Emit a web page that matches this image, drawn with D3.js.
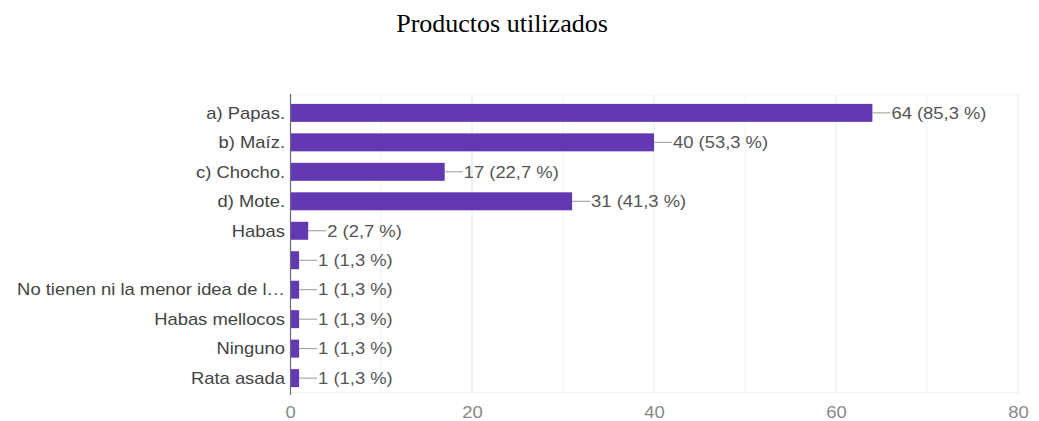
<!DOCTYPE html>
<html>
<head>
<meta charset="utf-8">
<script src="https://cdn.jsdelivr.net/npm/d3@7"></script>
<style>
  html, body { margin: 0; padding: 0; background: #ffffff; }
  svg { display: block; }
</style>
</head>
<body>
<svg id="chart" width="1039" height="421"></svg>
<script>
const title = "Productos utilizados";
const categories = [
  "a) Papas.",
  "b) Maíz.",
  "c) Chocho.",
  "d) Mote.",
  "Habas",
  "",
  "No tienen ni la menor idea de l…",
  "Habas mellocos",
  "Ninguno",
  "Rata asada"
];
const counts = [64, 40, 17, 31, 2, 1, 1, 1, 1, 1];
const percents = ["85,3", "53,3", "22,7", "41,3", "2,7", "1,3", "1,3", "1,3", "1,3", "1,3"];
const xTicks = [0, 20, 40, 60, 80];
const gridTicks = [10, 20, 30, 40, 50, 60, 70, 80];

(function () {
const svg = d3.select("#chart");
const mLeft = 290, mRight = 1018, mTop = 98, mBottom = 393;
const SX = 1.15; // horizontal stretch of the reference text
const FS = 16;

const x = d3.scaleLinear().domain([0, 80]).range([mLeft, mRight]);
const y = d3.scaleBand().domain(d3.range(categories.length)).range([mTop, mBottom])
  .paddingInner(0.39).paddingOuter(0.2);

// title
svg.append("text")
  .attr("x", 502).attr("y", 32)
  .attr("text-anchor", "middle")
  .attr("font-family", "'Liberation Serif', 'Times New Roman', serif")
  .attr("font-size", 26)
  .attr("fill", "#000")
  .text(title);

// grid lines
svg.append("g").selectAll("line").data(gridTicks).join("line")
  .attr("x1", d => x(d)).attr("x2", d => x(d))
  .attr("y1", mTop - 3).attr("y2", mBottom)
  .attr("stroke", d => d % 20 === 0 ? "#e6e6e6" : "#f2f2f2")
  .attr("stroke-width", 1);

// faint top/bottom borders
svg.append("line").attr("x1", mLeft).attr("x2", mRight).attr("y1", mTop - 3).attr("y2", mTop - 3)
  .attr("stroke", "#f3f3f3");
svg.append("line").attr("x1", mLeft).attr("x2", mRight).attr("y1", mBottom).attr("y2", mBottom)
  .attr("stroke", "#efefef");

// bars
svg.append("g").selectAll("rect").data(counts).join("rect")
  .attr("x", x(0))
  .attr("y", (d, i) => y(i))
  .attr("width", d => x(d) - x(0))
  .attr("height", y.bandwidth())
  .attr("fill", "#6338b3");

// axis line
svg.append("line")
  .attr("x1", x(0) + 0.5).attr("x2", x(0) + 0.5)
  .attr("y1", mTop - 4).attr("y2", mBottom + 2)
  .attr("stroke", "#6a6a7a").attr("stroke-width", 1.2);

const textFont = "'Liberation Sans', Arial, sans-serif";

// category labels
svg.append("g").selectAll("text").data(categories).join("text")
  .attr("transform", (d, i) => `translate(${x(0) - 5},${y(i) + y.bandwidth() / 2}) scale(${SX},1)`)
  .attr("text-anchor", "end")
  .attr("dy", "0.36em")
  .attr("font-family", textFont)
  .attr("font-size", FS)
  .attr("fill", "#444")
  .text(d => d);

// value connectors
svg.append("g").selectAll("line").data(counts).join("line")
  .attr("x1", d => x(d)).attr("x2", d => x(d) + 18)
  .attr("y1", (d, i) => y(i) + y.bandwidth() / 2)
  .attr("y2", (d, i) => y(i) + y.bandwidth() / 2)
  .attr("stroke", "#999").attr("stroke-width", 1);

// value labels
svg.append("g").selectAll("text").data(counts).join("text")
  .attr("transform", (d, i) => `translate(${x(d) + 19},${y(i) + y.bandwidth() / 2}) scale(${SX},1)`)
  .attr("dy", "0.36em")
  .attr("font-family", textFont)
  .attr("font-size", FS)
  .attr("fill", "#555")
  .text((d, i) => `${d} (${percents[i]} %)`);

// x tick labels
const xAxis = d3.axisBottom(x).tickValues(xTicks).tickSize(0).tickPadding(0);
const gx = svg.append("g").attr("transform", `translate(0,${mBottom})`).call(xAxis);
gx.select(".domain").remove();
gx.selectAll(".tick text")
  .attr("x", 0)
  .attr("y", 0)
  .attr("dy", "0.36em")
  .attr("font-family", textFont)
  .attr("font-size", FS)
  .attr("fill", "#888")
  .attr("transform", `translate(0,19) scale(${SX},1)`);
})();
</script>
</body>
</html>
